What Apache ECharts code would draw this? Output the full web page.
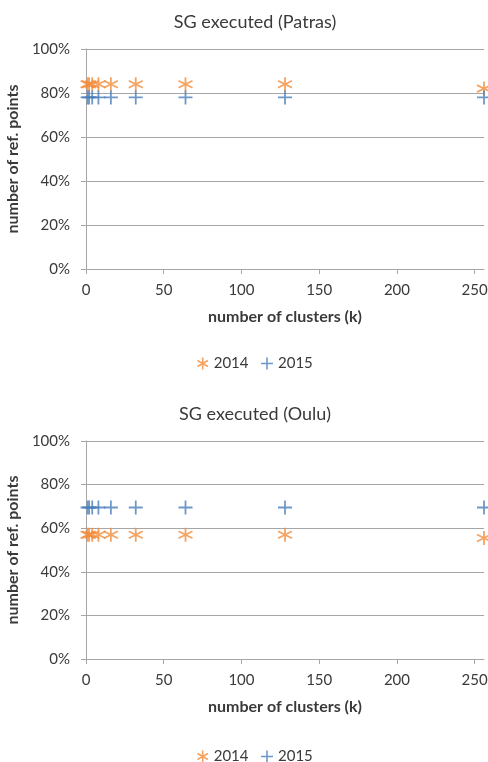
<!DOCTYPE html>
<html>
<head>
<meta charset="utf-8">
<style>
  html, body { margin: 0; padding: 0; background: #fff; }
  #main { width: 488px; height: 762px; }
</style>
<script src="https://cdn.jsdelivr.net/npm/echarts@6/dist/echarts.min.js"></script>
</head>
<body>
<div id="main"></div>
<script>
  // number of clusters k
  var clusters = [1, 2, 4, 8, 16, 32, 64, 128, 256]
  var patras2014 = [0.84, 0.84, 0.84, 0.84, 0.84, 0.84, 0.84, 0.84, 0.82]
  var patras2015 = [0.78, 0.78, 0.78, 0.78, 0.78, 0.78, 0.78, 0.78, 0.78]
  var oulu2014 = [0.57, 0.57, 0.57, 0.57, 0.57, 0.57, 0.57, 0.57, 0.555]
  var oulu2015 = [0.695, 0.695, 0.695, 0.695, 0.695, 0.695, 0.695, 0.695, 0.695]
  var xTicks = [0, 50, 100, 150, 200, 250]

  var font = 'Lato'
  var textColor = '#3a3a3a'
  var gridColor = '#a6a6a6'
  var orange = '#f28c3a'
  var blue = '#4a7ebb'
  var starPath = 'path://M0,-10L0,10M-8.66,-5L8.66,5M-8.66,5L8.66,-5'
  var plusPath = 'path://M0,-10L0,10M-10,0L10,0'

  function pairs (ys) {
    return clusters.map(function (k, i) { return [k, ys[i]] })
  }

  function xAxis (idx) {
    return {
      type: 'value', gridIndex: idx, min: 0, max: 256,
      name: 'number of clusters (k)', nameLocation: 'middle', nameGap: 40,
      nameTextStyle: { fontFamily: font, fontWeight: 'bold', fontSize: 16, color: textColor },
      axisLine: { lineStyle: { color: gridColor } },
      axisTick: { show: true, length: 5, customValues: xTicks, lineStyle: { color: gridColor } },
      axisLabel: { customValues: xTicks, margin: 14, fontFamily: font, fontSize: 15, color: textColor },
      splitLine: { show: false }
    }
  }

  function yAxis (idx) {
    return {
      type: 'value', gridIndex: idx, min: 0, max: 1, interval: 0.2,
      name: 'number of ref. points', nameLocation: 'middle', nameGap: 56,
      nameTextStyle: { fontFamily: font, fontWeight: 'bold', fontSize: 16, color: textColor },
      axisLine: { show: true, lineStyle: { color: gridColor } },
      axisTick: { show: true, length: 5, lineStyle: { color: gridColor } },
      axisLabel: {
        fontFamily: font, fontSize: 15, color: textColor, margin: 16,
        formatter: function (v) { return Math.round(v * 100) + '%' }
      },
      splitLine: { lineStyle: { color: gridColor } }
    }
  }

  function series (name, idx, ys, path, color) {
    return {
      name: name, type: 'scatter', xAxisIndex: idx, yAxisIndex: idx,
      symbol: path, symbolSize: 14, data: pairs(ys),
      itemStyle: { color: 'none', borderColor: color, borderWidth: 1.8 }
    }
  }

  function legend (top) {
    return {
      top: top, left: 190, itemWidth: 12, itemHeight: 12, itemGap: 10,
      textStyle: { fontFamily: font, fontSize: 15, color: textColor },
      data: [
        { name: '2014', icon: starPath, itemStyle: { color: 'none', borderColor: orange, borderWidth: 1.6 } },
        { name: '2015', icon: plusPath, itemStyle: { color: 'none', borderColor: blue, borderWidth: 1.6 } }
      ]
    }
  }

  var myChart = echarts.init(document.getElementById('main'))
  myChart.setOption({
    animation: false,
    title: [
      { text: 'SG executed (Patras)', left: 250, textAlign: 'center', top: 8,
        textStyle: { fontFamily: font, fontSize: 18, fontWeight: 'normal', color: textColor } },
      { text: 'SG executed (Oulu)', left: 250, textAlign: 'center', top: 400,
        textStyle: { fontFamily: font, fontSize: 18, fontWeight: 'normal', color: textColor } }
    ],
    legend: [legend(350), legend(743)],
    grid: [
      { left: 86, right: 4, top: 49, height: 220, outerBoundsMode: 'none' },
      { left: 86, right: 4, top: 441, height: 218, outerBoundsMode: 'none' }
    ],
    xAxis: [xAxis(0), xAxis(1)],
    yAxis: [yAxis(0), yAxis(1)],
    series: [
      series('2014', 0, patras2014, starPath, orange),
      series('2015', 0, patras2015, plusPath, blue),
      series('2014', 1, oulu2014, starPath, orange),
      series('2015', 1, oulu2015, plusPath, blue)
    ]
  })
</script>
</body>
</html>
